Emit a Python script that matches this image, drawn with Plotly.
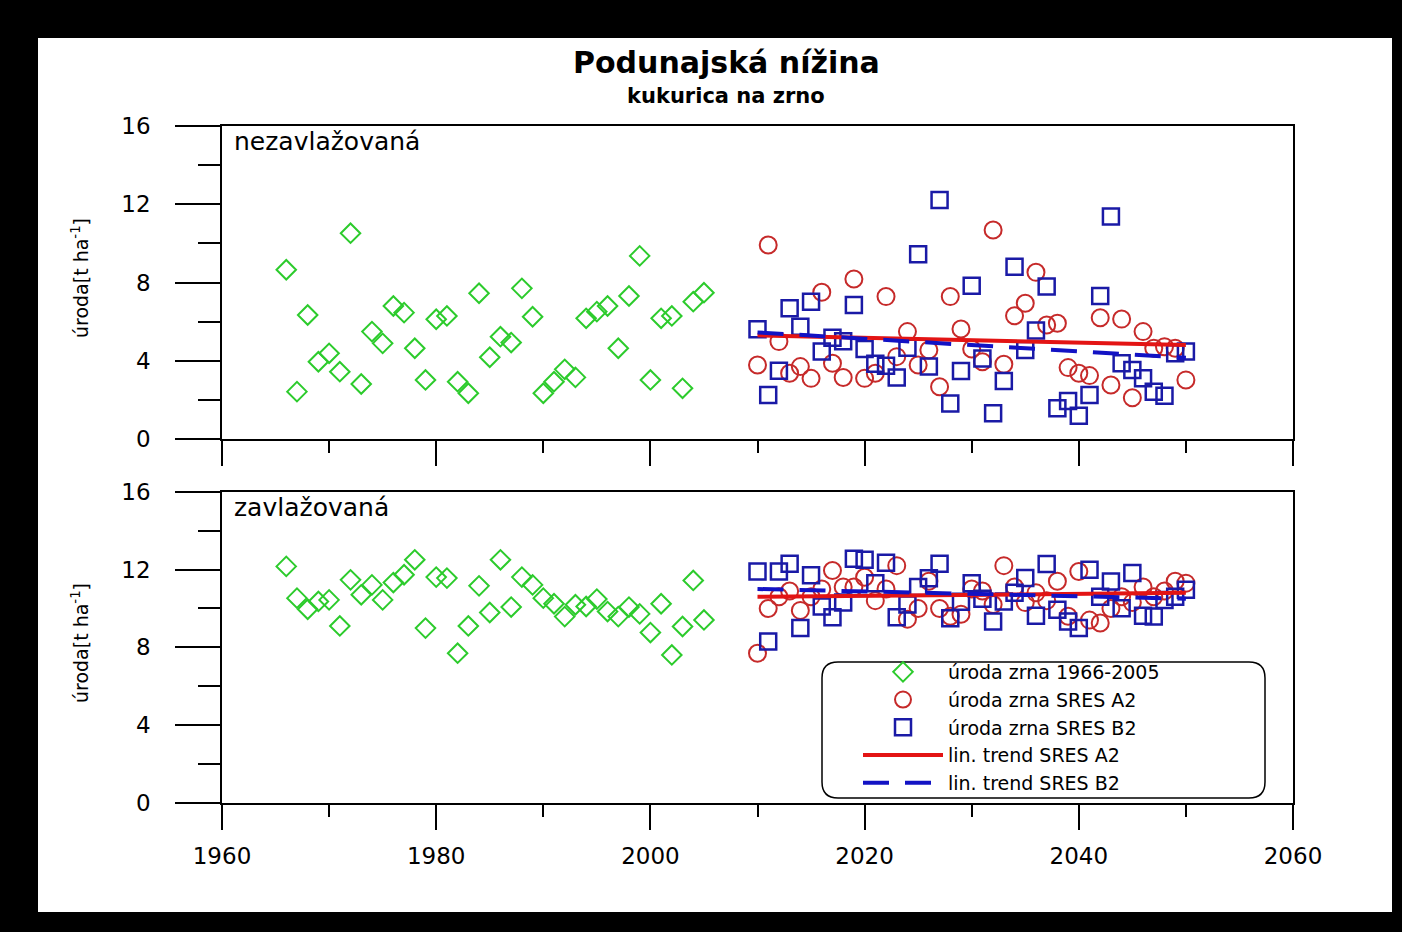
import plotly.graph_objects as go

# ---------------- data ----------------
years_hist = list(range(1966, 2006))
years_fut = list(range(2010, 2051))
trend_years = [2010, 2050]

hist_rainfed = [8.65, 2.42, 6.34, 3.95, 4.38, 3.44, 10.52, 2.81, 5.49, 4.89,
                6.80, 6.46, 4.64, 3.02, 6.12, 6.29, 2.93, 2.34, 7.45, 4.18,
                5.23, 4.93, 7.70, 6.25, 2.34, 2.93, 3.56, 3.15, 6.17, 6.51,
                6.80, 4.64, 7.31, 9.36, 3.02, 6.17, 6.29, 2.59, 7.02, 7.48]
a2_rainfed = [3.78, 9.92, 4.98, 3.36, 3.70, 3.10, 7.50, 3.87, 3.14, 8.18,
              3.10, 3.36, 7.28, 4.21, 5.49, 3.78, 4.55, 2.67, 7.28, 5.62,
              4.60, 3.95, 10.68, 3.82, 6.30, 6.94, 8.52, 5.83, 5.92, 3.65,
              3.36, 3.24, 6.20, 2.76, 6.13, 2.11, 5.49, 4.64, 4.72, 4.64, 3.02]
b2_rainfed = [5.61, 2.25, 3.49, 6.68, 5.74, 7.02, 4.47, 5.18, 5.00, 6.85,
              4.60, 3.85, 3.75, 3.14, 4.67, 9.44, 3.70, 12.22, 1.82, 3.48,
              7.84, 4.12, 1.31, 2.97, 8.81, 4.55, 5.54, 7.79, 1.57, 1.94,
              1.19, 2.25, 7.31, 11.37, 3.87, 3.53, 3.10, 2.42, 2.21, 4.38, 4.47]
trend_a2_rainfed = [5.30, 4.80]
trend_b2_rainfed = [5.45, 4.15]

hist_irrigated = [12.16, 10.53, 9.96, 10.36, 10.44, 9.10, 11.47, 10.70, 11.21, 10.44,
                  11.33, 11.73, 12.50, 8.99, 11.61, 11.56, 7.70, 9.10, 11.16, 9.79,
                  12.50, 10.07, 11.61, 11.21, 10.53, 10.24, 9.58, 10.19, 10.10, 10.48,
                  9.84, 9.58, 10.07, 9.72, 8.76, 10.24, 7.61, 9.07, 11.44, 9.41]
a2_irrigated = [7.70, 10.00, 10.60, 10.90, 9.90, 10.60, 11.00, 11.95, 11.10, 11.10,
                11.60, 10.40, 11.00, 12.20, 9.45, 10.00, 11.40, 10.00, 9.60, 9.70,
                11.00, 10.90, 10.20, 12.20, 11.10, 10.30, 10.80, 10.40, 11.40, 9.60,
                11.90, 9.40, 9.25, 10.00, 10.60, 10.30, 11.10, 10.60, 10.90, 11.40, 11.30]
b2_irrigated = [11.90, 8.30, 11.90, 12.30, 9.00, 11.70, 10.10, 9.55, 10.30, 12.55,
                12.50, 11.30, 12.35, 9.55, 10.20, 11.10, 11.55, 12.30, 9.50, 10.35,
                11.30, 10.50, 9.33, 10.36, 10.80, 11.56, 9.62, 12.29, 9.93, 9.33,
                8.99, 11.99, 10.60, 11.39, 10.01, 11.82, 9.62, 9.58, 10.44, 10.60, 10.96]
trend_a2_irrigated = [10.60, 10.80]
trend_b2_irrigated = [11.00, 10.50]

x_ticks = [1960, 1980, 2000, 2020, 2040, 2060]
x_minor = [1970, 1990, 2010, 2030, 2050]
y_ticks = [0, 4, 8, 12, 16]
y_minor = [2, 6, 10, 14]

names = ["úroda zrna 1966-2005", "úroda zrna SRES A2", "úroda zrna SRES B2",
         "lin. trend SRES A2", "lin. trend SRES B2"]

# ---------------- style ----------------
FONT = "DejaVu Sans"
GREEN = "#2ccb2c"
RED_M = "#c62a2a"
BLUE_M = "#1a1aa6"
RED_L = "#e31414"
BLUE_L = "#1212c4"

W, H = 1402, 932
L, R, T, B = 222, 109, 126, 129
PW, PH = W - L - R, H - T - B


def px_x(p):
    return (p - L) / PW


def px_y(p):
    return (H - B - p) / PH


fig = go.Figure()

panels = [
    ("x2", "y2", hist_rainfed, a2_rainfed, b2_rainfed, trend_a2_rainfed, trend_b2_rainfed, False),
    ("x", "y", hist_irrigated, a2_irrigated, b2_irrigated, trend_a2_irrigated, trend_b2_irrigated, True),
]
for xa, ya, hist, a2, b2, ta2, tb2, leg in panels:
    fig.add_trace(go.Scatter(x=years_hist, y=hist, mode="markers", xaxis=xa, yaxis=ya,
                             name=names[0], showlegend=leg,
                             marker=dict(symbol="diamond-open", size=15, color=GREEN,
                                         line=dict(width=2, color=GREEN))))
    fig.add_trace(go.Scatter(x=years_fut, y=a2, mode="markers", xaxis=xa, yaxis=ya,
                             name=names[1], showlegend=leg,
                             marker=dict(symbol="circle-open", size=17, color=RED_M,
                                         line=dict(width=2, color=RED_M))))
    fig.add_trace(go.Scatter(x=years_fut, y=b2, mode="markers", xaxis=xa, yaxis=ya,
                             name=names[2], showlegend=leg,
                             marker=dict(symbol="square-open", size=16, color=BLUE_M,
                                         line=dict(width=2.5, color=BLUE_M))))
    fig.add_trace(go.Scatter(x=trend_years, y=ta2, mode="lines", xaxis=xa, yaxis=ya,
                             name=names[3], showlegend=leg,
                             line=dict(color=RED_L, width=4)))
    fig.add_trace(go.Scatter(x=trend_years, y=tb2, mode="lines", xaxis=xa, yaxis=ya,
                             name=names[4], showlegend=leg,
                             line=dict(color=BLUE_L, width=4, dash="26px,16px")))

axis_common = dict(showgrid=False, zeroline=False, showline=True, linecolor="black",
                   linewidth=1.5, mirror=True, ticks="outside", tickcolor="black",
                   tickwidth=1.5)
tickfont = dict(family=FONT, size=23, color="black")

xcfg = dict(axis_common, range=[1960, 2060], tickvals=x_ticks, ticklen=25,
            minor=dict(tickvals=x_minor, ticks="outside", ticklen=12,
                       tickcolor="black", tickwidth=1.5))
ycfg = dict(axis_common, range=[0, 16], tickvals=y_ticks, ticklen=45,
            ticklabelstandoff=20,
            minor=dict(tickvals=y_minor, ticks="outside", ticklen=22,
                       tickcolor="black", tickwidth=1.5))

bot_top = px_y(491.7)
top_bot = px_y(439)

fig.update_layout(
    width=W, height=H,
    margin=dict(l=L, r=R, t=T, b=B, pad=0),
    paper_bgcolor="black", plot_bgcolor="white",
    font=dict(family=FONT, color="black"),
    xaxis=dict(xcfg, anchor="y", tickfont=tickfont, ticklabelstandoff=7),
    yaxis=dict(ycfg, anchor="x", domain=[0, bot_top], tickfont=tickfont),
    xaxis2=dict(xcfg, anchor="y2", matches="x", showticklabels=False),
    yaxis2=dict(ycfg, anchor="x2", domain=[top_bot, 1], tickfont=tickfont),
    showlegend=True,
    legend=dict(x=px_x(858), y=px_y(653), xanchor="left", yanchor="top",
                bgcolor="rgba(0,0,0,0)", borderwidth=0, itemwidth=80,
                tracegroupgap=0, font=dict(family=FONT, size=19, color="black")),
)

# white page inside black frame
fig.add_shape(type="rect", xref="paper", yref="paper", layer="below",
              x0=px_x(38), x1=px_x(1392), y0=px_y(912), y1=px_y(38),
              fillcolor="white", line=dict(width=0))

# rounded legend box
x0, x1 = px_x(822), px_x(1265)
y0, y1 = px_y(798), px_y(662)
rx, ry = 16 / PW, 16 / PH
path = (f"M {x0+rx},{y1} L {x1-rx},{y1} Q {x1},{y1} {x1},{y1-ry} "
        f"L {x1},{y0+ry} Q {x1},{y0} {x1-rx},{y0} L {x0+rx},{y0} "
        f"Q {x0},{y0} {x0},{y0+ry} L {x0},{y1-ry} Q {x0},{y1} {x0+rx},{y1} Z")
fig.add_shape(type="path", xref="paper", yref="paper", path=path, layer="above",
              fillcolor="white", line=dict(color="black", width=1.5))

ann = [
    dict(text="<b>Podunajská nížina</b>", x=px_x(726), y=px_y(63), size=30),
    dict(text="<b>kukurica na zrno</b>", x=px_x(726), y=px_y(96), size=21),
]
for a in ann:
    fig.add_annotation(text=a["text"], x=a["x"], y=a["y"], xref="paper", yref="paper",
                       showarrow=False, xanchor="center", yanchor="middle",
                       font=dict(family=FONT, size=a["size"], color="black"))

for label, ypx in [("nezavlažovaná", 141), ("zavlažovaná", 507)]:
    fig.add_annotation(text=label, x=px_x(232), y=px_y(ypx), xref="paper", yref="paper",
                       showarrow=False, xanchor="left", yanchor="middle",
                       font=dict(family=FONT, size=25, color="black"))

for ypx in [278, 643]:
    fig.add_annotation(text="úroda[t ha<sup>-1</sup>]", x=px_x(80), y=px_y(ypx),
                       xref="paper", yref="paper", showarrow=False, textangle=-90,
                       xanchor="center", yanchor="middle",
                       font=dict(family=FONT, size=19, color="black"))

fig.write_html("out.html",
               config={"displayModeBar": False},
               post_script="document.body.style.margin='0';"
                           "document.body.style.overflow='hidden';")
